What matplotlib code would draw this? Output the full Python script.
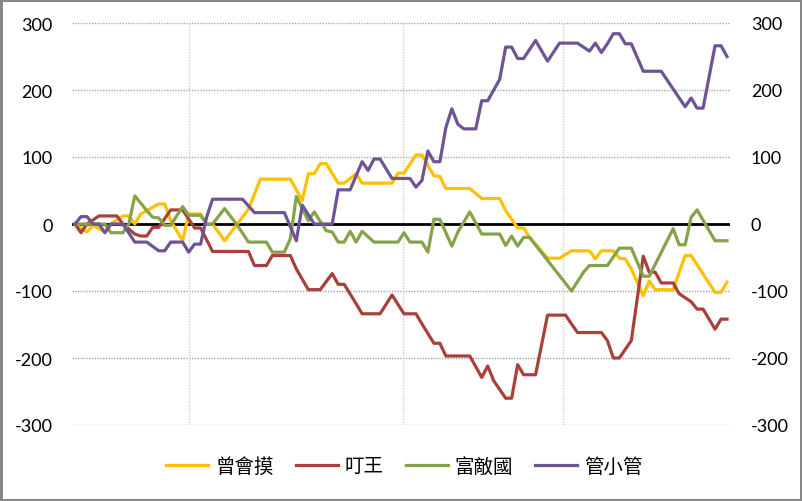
import matplotlib
matplotlib.use("Agg")
import matplotlib.pyplot as plt
from matplotlib.lines import Line2D

# ---- data (x = trade index, y = cumulative value) ----
names = ["曾會摸", "叮王", "富敵國", "管小管"]

yellow_x = [0, 2, 3, 5, 6, 8, 9, 10, 11, 12, 14, 15, 16, 18, 19, 21, 22, 23, 25, 29, 31,
            36, 38, 39, 40, 41, 42, 44, 45, 47, 48, 53, 54, 55, 57, 58, 60, 61, 62, 66, 68,
            71, 72, 73, 74, 75, 76, 79, 81, 83, 86, 87, 88, 90, 91, 92, 93, 94, 95, 96, 97,
            100, 102, 103, 107, 108, 109]
yellow_y = [0, -12, -2, -12, 0, 12, 12, 0, 15, 20, 30, 30, 5, -25, 15, 15, 0, 0, -25, 22, 67,
            67, 35, 75, 75, 90, 90, 61, 61, 75, 61, 61, 76, 76, 103, 103, 72, 71, 53, 53, 38,
            38, 20, 7, -6, -6, -20, -51, -51, -40, -40, -52, -40, -40, -51, -52, -67, -87, -107, -85, -98,
            -98, -47, -47, -102, -102, -87]

red_x = [0, 1, 2, 4, 7, 8, 10, 11, 12, 13, 14, 16, 18, 20, 21, 23, 29, 30, 32, 33, 36,
         37, 39, 41, 43, 44, 45, 47, 48, 51, 53, 55, 57, 58, 60, 61, 62, 66, 68, 69, 70,
         72, 73, 74, 75, 77, 79, 82, 84, 88, 89, 90, 91, 93, 95, 96, 97, 98, 100, 101, 103,
         104, 105, 107, 108, 109]
red_y = [0, -13, 0, 12, 12, 0, -15, -18, -18, -5, -5, 21, 21, -6, -6, -41, -41, -62, -62, -47, -47,
         -67, -98, -98, -74, -90, -90, -119, -134, -134, -106, -134, -134, -149, -178, -178, -197, -197, -229, -212, -234,
         -260, -260, -210, -225, -225, -136, -136, -162, -162, -174, -200, -200, -174, -48, -72, -72, -88, -88, -104, -116,
         -127, -127, -157, -142, -142]

green_x = [0, 5, 6, 8, 9, 10, 12, 13, 14, 15, 16, 18, 19, 21, 22, 23, 25, 27, 29, 32, 33,
           35, 36, 37, 39, 40, 42, 43, 44, 45, 46, 47, 48, 50, 54, 55, 56, 58, 59, 60, 61,
           63, 64, 66, 68, 71, 72, 73, 74, 75, 76, 83, 85, 86, 89, 91, 93, 95, 96, 100, 101,
           102, 103, 104, 107, 109]
green_y = [0, 0, -13, -13, 0, 42, 20, 10, 9, -2, -2, 26, 13, 13, 0, 0, 23, 0, -27, -27, -42,
           -42, -22, 41, 5, 18, -10, -12, -27, -27, -11, -27, -11, -27, -27, -13, -27, -27, -42, 7, 7,
           -33, -12, 18, -15, -15, -32, -18, -33, -20, -20, -100, -72, -62, -62, -36, -36, -78, -78, -7, -31,
           -31, 10, 21, -25, -25]

purple_x = [0, 1, 2, 3, 4, 5, 6, 8, 10, 12, 14, 15, 16, 18, 19, 20, 21, 22, 23, 28, 30,
            35, 37, 38, 40, 43, 44, 46, 48, 49, 50, 51, 53, 56, 57, 58, 59, 60, 61, 62, 63,
            64, 65, 67, 68, 69, 71, 72, 73, 74, 75, 77, 79, 81, 84, 86, 87, 88, 89, 90, 91,
            92, 93, 95, 98, 102, 103, 104, 105, 107, 108, 109]
purple_y = [0, 11, 11, 0, 0, -13, 0, 0, -27, -27, -40, -40, -27, -27, -42, -30, -30, 10, 37, 37, 17,
            17, -25, 28, 0, 0, 51, 51, 93, 80, 97, 97, 68, 68, 55, 65, 109, 93, 93, 144, 172,
            149, 142, 142, 184, 184, 216, 264, 264, 247, 247, 274, 243, 270, 270, 258, 270, 256, 269, 284, 284,
            269, 269, 228, 228, 175, 188, 173, 173, 266, 266, 250]

y_ticks = [-300, -200, -100, 0, 100, 200, 300]
x_grid = [19.06, 54.83, 81.58]

colors = ["#FFC000", "#A8413B", "#86A34A", "#6F5495"]

# ---- figure ----
W, H = 802, 502
fig = plt.figure(figsize=(W / 100, H / 100), dpi=100)
fig.patch.set_facecolor("white")
fig.patch.set_edgecolor("#868686")
fig.patch.set_linewidth(2.5)

ax = fig.add_axes([72 / W, 76 / H, 658 / W, 402 / H])
ax.set_xlim(-0.5, 109.5)
ax.set_ylim(-300, 300)

for s in ax.spines.values():
    s.set_visible(False)

# grid
for v in y_ticks:
    if v != 0:
        ax.axhline(v, color="#a6a6a6", lw=1.0, ls=(0, (1, 1)), zorder=1)
for gx in x_grid:
    ax.axvline(gx, color="#d0d0d0", lw=1.0, ls=(0, (1, 1)), zorder=1)
ax.axhline(0, color="black", lw=2.0, zorder=2)

series = [(yellow_x, yellow_y), (red_x, red_y), (green_x, green_y), (purple_x, purple_y)]
for (xs, ys), c, n in zip(series, colors, names):
    ax.plot(xs, ys, color=c, lw=2.3, zorder=3, label=n, solid_joinstyle="round")

ax.set_xticks([])
ax.set_yticks(y_ticks)
ax.set_yticklabels([str(v) for v in y_ticks], fontsize=13, family="Lato")
ax.tick_params(axis="y", length=0, pad=14, labelcolor="#000000")

ax2 = ax.twinx()
ax2.set_ylim(-300, 300)
ax2.set_yticks(y_ticks)
ax2.set_yticklabels([str(v) for v in y_ticks], fontsize=13, family="Lato")
ax2.tick_params(axis="y", length=0, pad=15)
for s in ax2.spines.values():
    s.set_visible(False)

handles = [Line2D([0], [0], color=c, lw=2.3) for c in colors]
fig.legend(handles, names, loc="center", bbox_to_anchor=(404.5 / W, 1 - 467 / H), ncol=4,
           frameon=False, prop={"family": ["Noto Sans CJK TC", "DejaVu Sans"], "size": 14},
           handlelength=2.15, handletextpad=0.35, columnspacing=1.15)

fig.savefig("out.png", dpi=100, facecolor=fig.get_facecolor(), edgecolor=fig.get_edgecolor())
